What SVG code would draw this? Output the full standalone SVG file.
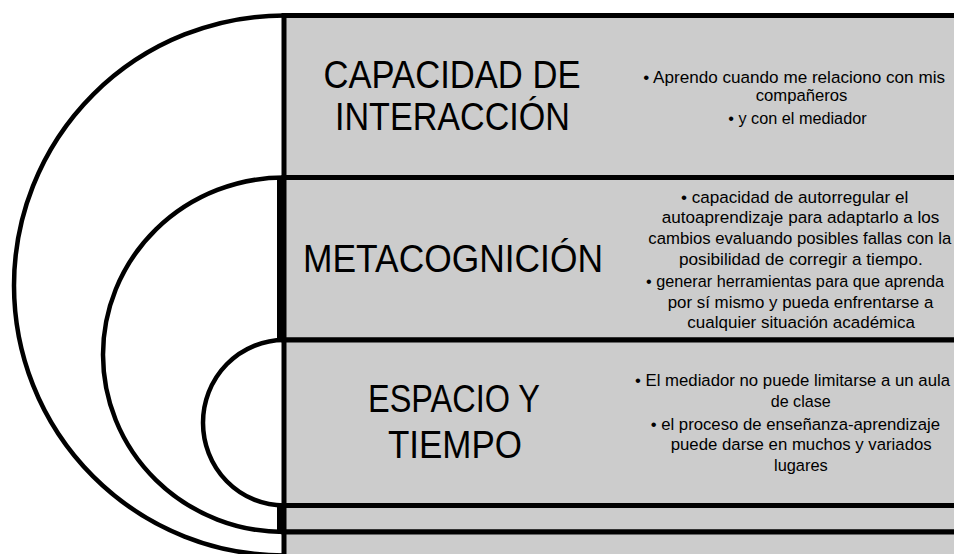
<svg xmlns="http://www.w3.org/2000/svg" width="954" height="554" viewBox="0 0 954 554">
<style>
.arc{fill:none;stroke:#000;stroke-width:4.5}
.box{fill:#cccccc;stroke:#000;stroke-width:5}
.lbl{font-family:"Liberation Sans",Arial,sans-serif;font-size:38px;fill:#000;text-anchor:middle}
.txt{font-family:"Liberation Sans",Arial,sans-serif;font-size:16.8px;fill:#000;text-anchor:start}
</style>
<rect width="954" height="554" fill="#fff"/>
<g id="arcs">
<path class="arc" d="M284,15.5 A270,270 0 0 0 284,555.5"/>
<path class="arc" d="M284,177.5 A181,177.25 0 0 0 284,532"/>
<path class="arc" d="M284,340 A81,82.75 0 0 0 284,505.5"/>
<line x1="279.5" y1="177.5" x2="279.5" y2="340" stroke="#000" stroke-width="5"/>
<line x1="279.5" y1="505.5" x2="279.5" y2="532" stroke="#000" stroke-width="5"/>
</g>
<g id="node-interaccion">
<rect class="box" x="284" y="15.5" width="700" height="162"/>
<text class="lbl" x="452" y="87.5" textLength="257" lengthAdjust="spacingAndGlyphs">CAPACIDAD DE</text>
<text class="lbl" x="452.5" y="130" textLength="235" lengthAdjust="spacingAndGlyphs">INTERACCIÓN</text>
<text class="txt" x="643.3" y="82.5" textLength="301.7" lengthAdjust="spacingAndGlyphs">• Aprendo cuando me relaciono con mis</text>
<text class="txt" x="755.7" y="101" textLength="91.7" lengthAdjust="spacingAndGlyphs">compañeros</text>
<text class="txt" x="728.3" y="124" textLength="138.3" lengthAdjust="spacingAndGlyphs">• y con el mediador</text>
</g>
<g id="node-metacognicion">
<rect class="box" x="284" y="177.5" width="700" height="162.5"/>
<text class="lbl" x="453" y="272" textLength="300" lengthAdjust="spacingAndGlyphs">METACOGNICIÓN</text>
<text class="txt" x="681" y="202.5" textLength="227.3" lengthAdjust="spacingAndGlyphs">• capacidad de autorregular el</text>
<text class="txt" x="661.7" y="223.2" textLength="277.6" lengthAdjust="spacingAndGlyphs">autoaprendizaje para adaptarlo a los</text>
<text class="txt" x="648.3" y="244" textLength="303" lengthAdjust="spacingAndGlyphs">cambios evaluando posibles fallas con la</text>
<text class="txt" x="679" y="264.7" textLength="243.7" lengthAdjust="spacingAndGlyphs">posibilidad de corregir a tiempo.</text>
<text class="txt" x="646" y="287" font-size="16.3" textLength="298" lengthAdjust="spacingAndGlyphs">• generar herramientas para que aprenda</text>
<text class="txt" x="667.7" y="307.7" textLength="265.6" lengthAdjust="spacingAndGlyphs">por sí mismo y pueda enfrentarse a</text>
<text class="txt" x="687.3" y="328.4" textLength="227.7" lengthAdjust="spacingAndGlyphs">cualquier situación académica</text>
</g>
<g id="node-espacio">
<rect class="box" x="284" y="340" width="700" height="165.5"/>
<text class="lbl" x="454" y="412" textLength="172" lengthAdjust="spacingAndGlyphs">ESPACIO Y</text>
<text class="lbl" x="455" y="458" textLength="134" lengthAdjust="spacingAndGlyphs">TIEMPO</text>
<text class="txt" x="635" y="386" textLength="315" lengthAdjust="spacingAndGlyphs">• El mediador no puede limitarse a un aula</text>
<text class="txt" x="770.7" y="406.5" textLength="60" lengthAdjust="spacingAndGlyphs">de clase</text>
<text class="txt" x="650.7" y="429.5" textLength="289.3" lengthAdjust="spacingAndGlyphs">• el proceso de enseñanza-aprendizaje</text>
<text class="txt" x="670.7" y="450" textLength="261" lengthAdjust="spacingAndGlyphs">puede darse en muchos y variados</text>
<text class="txt" x="774" y="470.5" textLength="53.7" lengthAdjust="spacingAndGlyphs">lugares</text>
</g>
<g id="node-row4">
<rect class="box" x="284" y="505.5" width="700" height="26.5"/>
</g>
<g id="node-row5">
<rect class="box" x="284" y="532" width="700" height="60"/>
</g>
</svg>
